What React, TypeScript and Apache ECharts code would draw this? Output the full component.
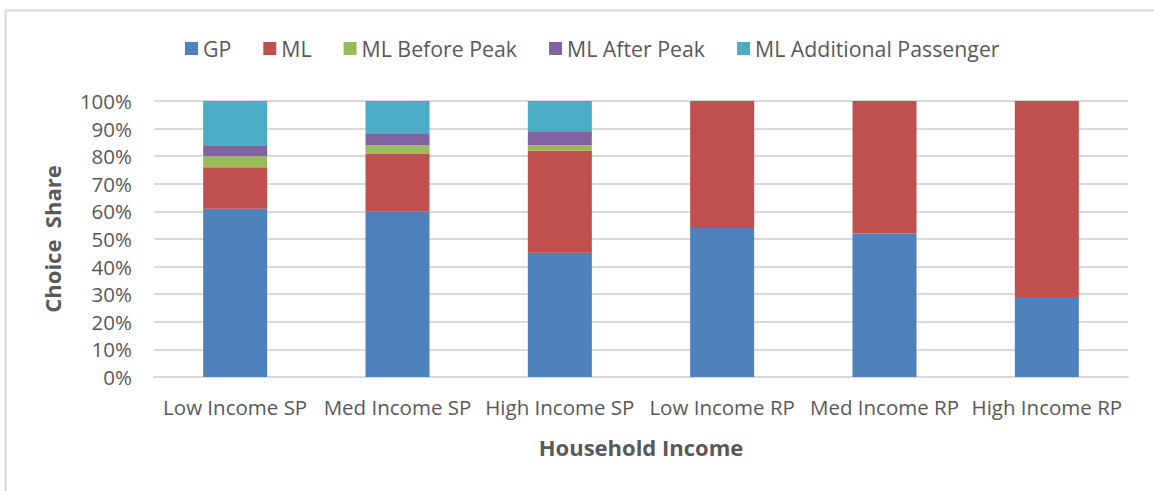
import React, { useEffect, useRef } from "react";
import * as echarts from "echarts";

const categories = ["Low Income SP", "Med Income SP", "High Income SP", "Low Income RP", "Med Income RP", "High Income RP"];
const gp = [61, 60, 45, 54, 52, 29];
const ml = [15, 21, 37, 46, 48, 71];
const mlBefore = [4, 3, 2, 0, 0, 0];
const mlAfter = [4, 4, 5, 0, 0, 0];
const mlAdditional = [16, 12, 11, 0, 0, 0];

const seriesNames = ["GP", "ML", "ML Before Peak", "ML After Peak", "ML Additional Passenger"];
const seriesColors = ["#4F81BD", "#C0504D", "#9BBB59", "#8064A2", "#4BACC6"];
const seriesData = [gp, ml, mlBefore, mlAfter, mlAdditional];

const FONT = "'Open Sans', 'Noto Sans', sans-serif";

export default function App() {
  const ref = useRef<HTMLDivElement>(null);
  useEffect(() => {
    if (!ref.current) return;
    const chart = echarts.init(ref.current, null, { renderer: "svg" });
    chart.setOption({
      animation: false,
      backgroundColor: "#fff",
      textStyle: { fontFamily: FONT },
      graphic: [
        {
          type: "rect",
          shape: { x: 5.5, y: 10.5, width: 1170, height: 500 },
          style: { fill: "none", stroke: "#D9D9D9", lineWidth: 2 },
          silent: true,
        },
      ],
      legend: {
        top: 33,
        left: 180,
        itemWidth: 13,
        itemHeight: 13,
        itemGap: 32,
        icon: "rect",
        textStyle: { fontSize: 21.3, color: "#595959", fontFamily: FONT },
        data: seriesNames,
      },
      grid: { left: 154, right: 26, top: 101, bottom: 114, containLabel: false },
      xAxis: {
        type: "category",
        data: categories,
        name: "Household Income",
        nameLocation: "middle",
        nameGap: 59,
        nameTextStyle: { fontSize: 22, fontWeight: "bold", color: "#595959", fontFamily: FONT },
        axisLine: { show: true, lineStyle: { color: "#D9D9D9", width: 2 } },
        axisTick: { show: false },
        axisLabel: { fontSize: 20.5, color: "#595959", margin: 19, interval: 0, fontFamily: FONT },
      },
      yAxis: {
        type: "value",
        min: 0,
        max: 100,
        interval: 10,
        name: "Choice  Share",
        nameLocation: "middle",
        nameGap: 91,
        nameTextStyle: { fontSize: 22, fontWeight: "bold", color: "#595959", fontFamily: FONT },
        axisLine: { show: false },
        axisTick: { show: false },
        axisLabel: { fontSize: 20.5, color: "#595959", margin: 22, formatter: "{value}%", fontFamily: FONT },
        splitLine: { lineStyle: { color: "#D9D9D9", width: 2 } },
      },
      series: seriesNames.map((name, i) => ({
        name,
        type: "bar",
        stack: "total",
        barWidth: 64,
        data: seriesData[i],
        itemStyle: { color: seriesColors[i] },
      })),
    });
    return () => chart.dispose();
  }, []);
  return (
    <div
      ref={ref}
      style={{ position: "absolute", left: 0, top: 0, width: 1154, height: 491 }}
    />
  );
}
